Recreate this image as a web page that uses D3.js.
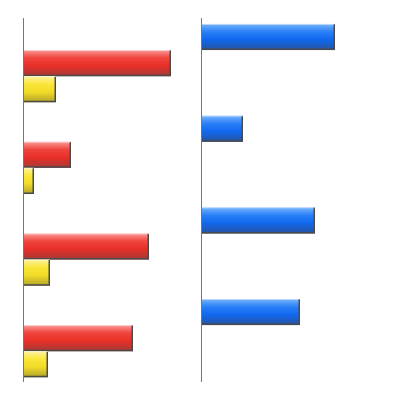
<!DOCTYPE html>
<html>
<head>
<meta charset="utf-8">
<script src="https://cdn.jsdelivr.net/npm/d3@7"></script>
<style>
  body { margin: 0; background: #fff; }
  svg { display: block; }
</style>
</head>
<body>
<svg></svg>
<script>
var categories = ["A", "B", "C", "D"];
var redValues = [148, 48, 126, 110];
var yellowValues = [33, 11, 27, 25];
var blueValues = [134, 42, 114, 99];
var seriesNames = ["blue", "red", "yellow"];

var screen = { width: 400, height: 400 };

var svg = d3.select("svg")
            .attr("width", screen.width)
            .attr("height", screen.height);

// vertical glossy gradients
var gradients = {
  red: ["#fb9a98", "#f0443c", "#e82f28", "#a53a36"],
  yellow: ["#fff3a0", "#fae63a", "#f2dc28", "#b3a32a"],
  blue: ["#78b4ff", "#2a80f6", "#1068ee", "#2852a0"]
};
var defs = svg.append("defs");
Object.keys(gradients).forEach(function(k) {
  var g = defs.append("linearGradient")
              .attr("id", "grad-" + k)
              .attr("x1", 0).attr("y1", 0).attr("x2", 0).attr("y2", 1);
  var offs = [0, 0.3, 0.6, 1];
  gradients[k].forEach(function(c, i) {
    g.append("stop").attr("offset", offs[i]).attr("stop-color", c);
  });
});

var yScale = d3.scaleBand()
               .domain(categories)
               .range([18, 382])
               .paddingInner(0.146)
               .paddingOuter(0.058)
               .align(0.56);

var ySub = d3.scaleBand()
             .domain(seriesNames)
             .range([0, yScale.bandwidth()]);

var xLeft = d3.scaleLinear().domain([0, 160]).range([23, 183]);
var xRight = d3.scaleLinear().domain([0, 160]).range([201, 361]);

var drawBars = function(values, name, xScale) {
  var g = svg.append("g").classed("bars-" + name, true);
  var bars = g.selectAll("g")
              .data(values)
              .enter()
              .append("g")
              .attr("transform", function(d, i) {
                return "translate(0," + (yScale(categories[i]) + ySub(name)) + ")";
              });
  var h = ySub.bandwidth();
  bars.append("rect")
      .attr("x", xScale(0))
      .attr("y", 0)
      .attr("width", function(d) { return xScale(d) - xScale(0); })
      .attr("height", h)
      .attr("fill", "url(#grad-" + name + ")");
  // dark shadow edge on right and bottom
  bars.append("path")
      .attr("d", function(d) {
        var x1 = xScale(d) - 0.75;
        return "M" + xScale(0) + "," + (h - 0.75) + "H" + x1 + "V0.5";
      })
      .attr("fill", "none")
      .attr("stroke", "#4a4a4a")
      .attr("stroke-width", 1.5);
  // light highlight on top
  bars.append("line")
      .attr("x1", xScale(0))
      .attr("x2", function(d) { return xScale(d) - 1.5; })
      .attr("y1", 0.5)
      .attr("y2", 0.5)
      .attr("stroke", "#ffffff")
      .attr("stroke-opacity", 0.5);
};

drawBars(redValues, "red", xLeft);
drawBars(yellowValues, "yellow", xLeft);
drawBars(blueValues, "blue", xRight);

// axis lines
[xLeft, xRight].forEach(function(s) {
  svg.append("line")
     .attr("x1", s(0) + 0.5)
     .attr("x2", s(0) + 0.5)
     .attr("y1", yScale.range()[0])
     .attr("y2", yScale.range()[1])
     .attr("stroke", "#777")
     .attr("stroke-width", 1);
});
</script>
</body>
</html>
